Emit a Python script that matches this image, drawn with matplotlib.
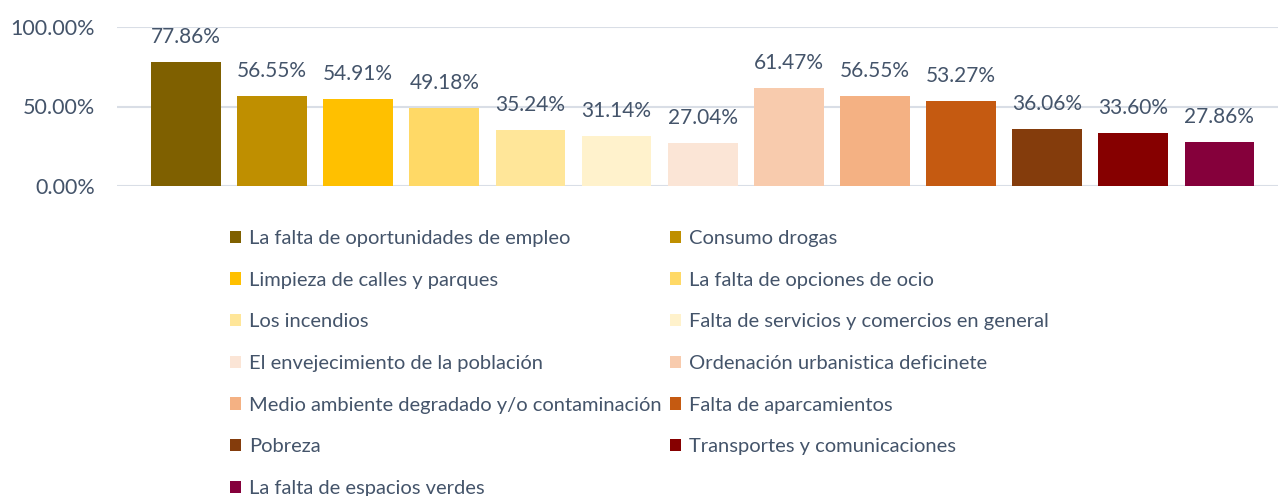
import matplotlib.pyplot as plt
from matplotlib.patches import Patch
from matplotlib.ticker import FuncFormatter

# Problemas del municipio (porcentaje de respuestas)
categories = [
    'La falta de oportunidades de empleo',
    'Consumo drogas',
    'Limpieza de calles y parques',
    'La falta de opciones de ocio',
    'Los incendios',
    'Falta de servicios y comercios en general',
    'El envejecimiento de la población',
    'Ordenación urbanistica deficinete',
    'Medio ambiente degradado y/o contaminación',
    'Falta de aparcamientos',
    'Pobreza',
    'Transportes y comunicaciones',
    'La falta de espacios verdes',
]
values = [0.7786, 0.5655, 0.5491, 0.4918, 0.3524, 0.3114, 0.2704,
          0.6147, 0.5655, 0.5327, 0.3606, 0.3360, 0.2786]
colors = ['#7F6000', '#BF8F00', '#FFC000', '#FFD966', '#FFE699', '#FFF2CC',
          '#FBE5D6', '#F8CBAD', '#F4B183', '#C55A11', '#843C0C', '#860000',
          '#85003B']
yticks = [0.0, 0.5, 1.0]

TEXT = '#44546A'
GRID = '#D9DEE6'
plt.rcParams['font.family'] = ['Lato', 'DejaVu Sans']

W, H = 1278, 496
fig = plt.figure(figsize=(W / 100, H / 100), dpi=100)
ax = fig.add_axes([117 / W, (H - 186) / H, (W - 117) / W, 159 / H])

x = list(range(len(values)))
bars = ax.bar(x, values, width=0.81, color=colors, zorder=3)
for b, v in zip(bars, values):
    ax.annotate(f'{v * 100:.2f}%', (b.get_x() + b.get_width() / 2, v),
                xytext=(0, 18), textcoords='offset points',
                ha='center', va='center', fontsize=15, color=TEXT)

ax.set_xlim(-0.80, 12.68)
ax.set_ylim(0, 1.0)
ax.set_yticks(yticks)
ax.yaxis.set_major_formatter(FuncFormatter(lambda v, _: f'{v * 100:.2f}%'))
ax.tick_params(axis='y', length=0, pad=16, labelsize=15.5, labelcolor=TEXT)
ax.set_xticks([])
ax.grid(axis='y', color=GRID, linewidth=1.5, zorder=0)
for s in ax.spines.values():
    s.set_visible(False)

# legend filled row by row (two columns)
handles = [Patch(facecolor=c, label=l) for c, l in zip(colors, categories)]
order = list(range(0, 13, 2)) + list(range(1, 13, 2))
fig.legend([handles[i] for i in order], [categories[i] for i in order],
           ncol=2, loc='upper left', bbox_to_anchor=(230 / W, 1 - 230 / H),
           frameon=False, fontsize=14.5, labelcolor=TEXT,
           handlelength=0.55, handleheight=0.55, handletextpad=0.4,
           columnspacing=0.4, labelspacing=1.225, borderpad=0, borderaxespad=0)

fig.savefig('out.png', dpi=100, facecolor='white')
